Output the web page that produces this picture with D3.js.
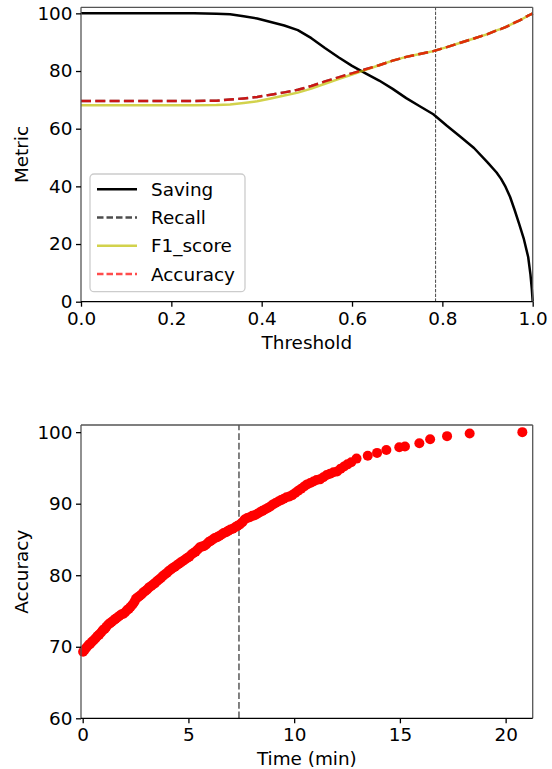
<!DOCTYPE html>
<html>
<head>
<meta charset="utf-8">
<script src="https://cdn.jsdelivr.net/npm/d3@7"></script>
<style>
  html, body { margin: 0; padding: 0; background: #fff; }
  svg { display: block; font-family: "DejaVu Sans", sans-serif; }
</style>
</head>
<body>
<svg id="chart" width="552" height="769"></svg>
<script>
// ---------- Top panel data ----------
const thresholds = [0, 0.05, 0.1, 0.15, 0.2, 0.25, 0.3, 0.33, 0.36, 0.39, 0.42, 0.45, 0.48, 0.51, 0.54, 0.57, 0.6, 0.63, 0.66, 0.69, 0.72, 0.75, 0.78, 0.81, 0.84, 0.87, 0.9, 0.92, 0.93, 0.94, 0.95, 0.96, 0.97, 0.98, 0.99, 0.995, 0.998, 1.0];
const saving   = [100, 100, 100, 100, 100, 100, 99.9, 99.7, 99.0, 98.2, 97.0, 95.8, 94.2, 91.4, 88.0, 84.8, 81.8, 79.2, 76.7, 73.8, 70.6, 67.8, 65.0, 61.0, 57.2, 53.3, 48.3, 44.8, 42.6, 39.8, 36.3, 31.8, 27.0, 22.0, 15.5, 9.5, 4.5, 0];
const accuracy = [69.6, 69.6, 69.6, 69.6, 69.6, 69.6, 69.7, 70.1, 70.5, 71.0, 71.8, 72.6, 73.5, 74.8, 76.4, 77.8, 79.2, 80.6, 82.0, 83.6, 84.9, 85.9, 86.9, 88.3, 89.8, 91.3, 92.8, 94.1, 94.6, 95.2, 96.0, 96.8, 97.5, 98.3, 99.2, 99.6, 99.8, 100];
const recall   = [69.6, 69.6, 69.6, 69.6, 69.6, 69.6, 69.7, 70.1, 70.5, 71.0, 71.8, 72.6, 73.5, 74.8, 76.4, 77.8, 79.2, 80.6, 82.0, 83.6, 84.9, 85.9, 86.9, 88.3, 89.8, 91.3, 92.8, 94.1, 94.6, 95.2, 96.0, 96.8, 97.5, 98.3, 99.2, 99.6, 99.8, 100];
const f1score  = [68.1, 68.1, 68.1, 68.1, 68.1, 68.1, 68.2, 68.4, 68.9, 69.5, 70.5, 71.5, 72.5, 73.9, 75.6, 77.2, 78.8, 80.4, 82.0, 83.6, 84.9, 85.9, 86.9, 88.3, 89.8, 91.3, 92.8, 94.1, 94.6, 95.2, 96.0, 96.8, 97.5, 98.3, 99.2, 99.6, 99.8, 100];
const chosenThreshold = 0.785;
const topXTicks = [0, 0.2, 0.4, 0.6, 0.8, 1.0];
const topYTicks = [0, 20, 40, 60, 80, 100];
const legendLabels = ["Saving", "Recall", "F1_score", "Accuracy"];

// ---------- Bottom panel data ----------
const timeMin = [0.02,0.10,0.18,0.27,0.35,0.44,0.52,0.61,0.70,0.78,0.87,0.95,1.04,1.12,1.21,1.30,1.38,1.47,1.55,1.64,1.73,1.82,1.91,2.00,2.09,2.18,2.27,2.36,2.45,2.52,2.60,2.69,2.78,2.87,2.96,3.05,3.14,3.24,3.33,3.42,3.52,3.61,3.70,3.79,3.88,3.98,4.07,4.17,4.26,4.36,4.45,4.55,4.64,4.74,4.84,4.94,5.04,5.14,5.24,5.34,5.44,5.54,5.64,5.74,5.84,5.95,6.05,6.15,6.25,6.36,6.46,6.57,6.67,6.78,6.88,6.99,7.10,7.21,7.32,7.43,7.55,7.66,7.78,7.90,8.02,8.14,8.26,8.38,8.50,8.62,8.75,8.87,9.00,9.12,9.25,9.38,9.51,9.64,9.78,9.91,10.05,10.19,10.33,10.47,10.61,10.76,10.91,11.06,11.22,11.38,11.54,11.70,11.86,12.03,12.20,12.36,12.52,12.70,12.95,13.48,13.92,14.36,14.97,15.24,15.92,16.43,17.23,18.30,20.79];
const accTime = [69.3,69.6,69.9,70.2,70.4,70.7,70.9,71.2,71.5,71.7,72.0,72.3,72.5,72.8,73.1,73.3,73.5,73.7,73.9,74.1,74.3,74.5,74.6,74.8,75.1,75.3,75.6,75.9,76.3,76.7,76.9,77.1,77.3,77.6,77.8,78.0,78.3,78.5,78.7,78.9,79.2,79.4,79.6,79.9,80.1,80.3,80.6,80.8,81.0,81.2,81.4,81.6,81.8,82.0,82.2,82.4,82.6,82.9,83.1,83.3,83.6,83.9,84.0,84.1,84.3,84.6,84.8,85.0,85.2,85.3,85.5,85.7,85.9,86.0,86.2,86.4,86.5,86.7,86.9,87.1,87.4,87.8,88.0,88.1,88.3,88.4,88.6,88.8,89.0,89.2,89.4,89.6,89.9,90.1,90.3,90.5,90.7,90.9,91.0,91.2,91.5,91.8,92.1,92.4,92.7,92.9,93.1,93.3,93.4,93.7,94.0,94.2,94.4,94.5,94.9,95.2,95.5,95.8,96.3,96.7,97.1,97.5,97.9,98.0,98.46,99.0,99.44,99.8,100.0];
const chosenTime = 7.39;
const botXTicks = [0, 5, 10, 15, 20];
const botYTicks = [60, 70, 80, 90, 100];

// ---------- Drawing ----------
const svg = d3.select("#chart");
const FONT = 18.4;

function frame(g, x, y) {
  const [x0, x1] = x.range(), [y0, y1] = y.range();
  g.append("line").attr("x1", x0).attr("x2", x0).attr("y1", y0).attr("y2", y1).attr("stroke", "#555").attr("stroke-width", 1.3);
  g.append("line").attr("x1", x1).attr("x2", x1).attr("y1", y0).attr("y2", y1).attr("stroke", "#555").attr("stroke-width", 1.3);
  g.append("line").attr("x1", x0).attr("x2", x1).attr("y1", y1).attr("y2", y1).attr("stroke", "#555").attr("stroke-width", 1.3);
  g.append("line").attr("x1", x0).attr("x2", x1).attr("y1", y0).attr("y2", y0).attr("stroke", "#000").attr("stroke-width", 1.3);
}

function axes(g, x, y, xt, yt, xfmt, yfmt) {
  const y0 = y.range()[0], x0 = x.range()[0];
  const xa = g.append("g").attr("transform", `translate(0,${y0})`)
    .call(d3.axisBottom(x).tickValues(xt).tickFormat(xfmt).tickSizeOuter(0).tickSize(5).tickPadding(5));
  const ya = g.append("g").attr("transform", `translate(${x0},0)`)
    .call(d3.axisLeft(y).tickValues(yt).tickFormat(yfmt).tickSizeOuter(0).tickSize(5).tickPadding(3.5));
  [xa, ya].forEach(a => {
    a.select(".domain").remove();
    a.selectAll(".tick line").attr("stroke", "#000").attr("stroke-width", 1.3);
    a.selectAll(".tick text").attr("fill", "#000").attr("font-size", FONT).attr("font-family", "DejaVu Sans");
  });
}

// Top panel
const xT = d3.scaleLinear().domain([0, 1]).range([81, 532.7]);
const yT = d3.scaleLinear().domain([0, 102.1]).range([301.7, 7.3]);
const gT = svg.append("g");

const lineT = (vals) => d3.line().x((d, i) => xT(thresholds[i])).y((d) => yT(d))(vals);

gT.append("line").attr("x1", xT(chosenThreshold)).attr("x2", xT(chosenThreshold))
  .attr("y1", yT.range()[0]).attr("y2", yT.range()[1])
  .attr("stroke", "#333").attr("stroke-width", 0.9).attr("stroke-dasharray", "3.3,1.4");

gT.append("path").attr("d", lineT(saving)).attr("fill", "none").attr("stroke", "#000").attr("stroke-width", 2.5).attr("stroke-linejoin", "round");
gT.append("path").attr("d", lineT(recall)).attr("fill", "none").attr("stroke", "#000").attr("stroke-opacity", 0.7).attr("stroke-width", 2.5).attr("stroke-dasharray", "10,4.3");
gT.append("path").attr("d", lineT(f1score)).attr("fill", "none").attr("stroke", "#bfbf00").attr("stroke-opacity", 0.7).attr("stroke-width", 2.5);
gT.append("path").attr("d", lineT(accuracy)).attr("fill", "none").attr("stroke", "#ff0000").attr("stroke-opacity", 0.7).attr("stroke-width", 2.5).attr("stroke-dasharray", "10,4.3");

frame(gT, xT, yT);
axes(gT, xT, yT, topXTicks, topYTicks, d3.format(".1f"), d3.format("d"));

gT.append("text").attr("x", (81 + 532.7) / 2).attr("y", 349).attr("text-anchor", "middle").attr("font-size", FONT).text("Threshold");
gT.append("text").attr("transform", `translate(28,${(7.3 + 301.7) / 2}) rotate(-90)`).attr("text-anchor", "middle").attr("font-size", FONT).text("Metric");

// Legend
const lg = gT.append("g");
lg.append("rect").attr("x", 90).attr("y", 174).attr("width", 155).attr("height", 117.7).attr("rx", 4)
  .attr("fill", "#fff").attr("fill-opacity", 0.8).attr("stroke", "#ccc").attr("stroke-width", 1.3);
const legStyles = [
  { stroke: "#000", op: 1, dash: null },
  { stroke: "#000", op: 0.7, dash: "6.5,3" },
  { stroke: "#bfbf00", op: 0.7, dash: null },
  { stroke: "#ff0000", op: 0.7, dash: "6.5,3" }
];
legendLabels.forEach((lab, i) => {
  const cy = 189.3 + i * 28.2;
  const s = legStyles[i];
  const l = lg.append("line").attr("x1", 97).attr("x2", 137).attr("y1", cy).attr("y2", cy)
    .attr("stroke", s.stroke).attr("stroke-opacity", s.op).attr("stroke-width", 2.5);
  if (s.dash) l.attr("stroke-dasharray", s.dash);
  lg.append("text").attr("x", 151).attr("y", cy).attr("dy", "0.36em").attr("font-size", FONT).text(lab);
});

// Bottom panel
const xB = d3.scaleLinear().domain([-0.08, 21.28]).range([81, 532.7]);
const yB = d3.scaleLinear().domain([60, 101]).range([718.3, 425]);
const gB = svg.append("g");

gB.append("line").attr("x1", xB(chosenTime)).attr("x2", xB(chosenTime))
  .attr("y1", yB.range()[0]).attr("y2", yB.range()[1])
  .attr("stroke", "#000").attr("stroke-opacity", 0.55).attr("stroke-width", 1.8).attr("stroke-dasharray", "6.7,2.9");

gB.append("g").selectAll("circle").data(timeMin).join("circle")
  .attr("cx", d => xB(d)).attr("cy", (d, i) => yB(accTime[i])).attr("r", 5).attr("fill", "#ff0000");

frame(gB, xB, yB);
axes(gB, xB, yB, botXTicks, botYTicks, d3.format("d"), d3.format("d"));

gB.append("text").attr("x", (81 + 532.7) / 2).attr("y", 765).attr("text-anchor", "middle").attr("font-size", FONT).text("Time (min)");
gB.append("text").attr("transform", `translate(28,${(425 + 718.3) / 2}) rotate(-90)`).attr("text-anchor", "middle").attr("font-size", FONT).text("Accuracy");
</script>
</body>
</html>
